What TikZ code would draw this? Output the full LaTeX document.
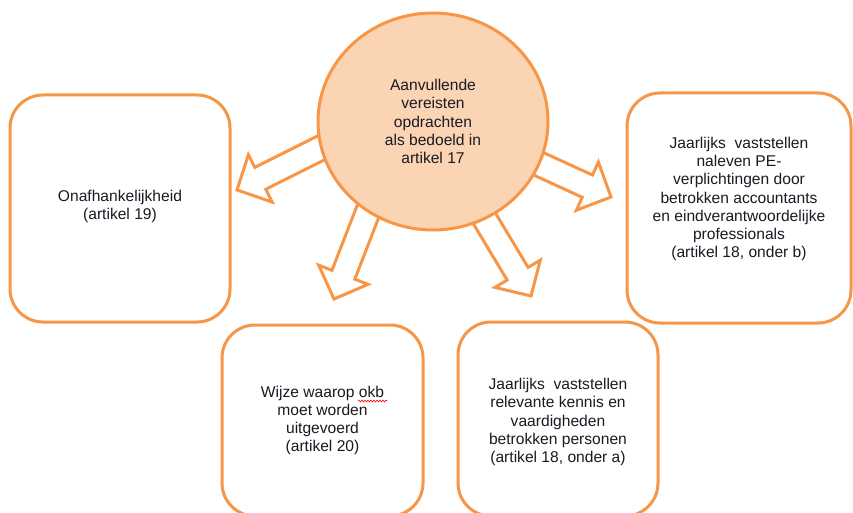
\documentclass[tikz,border=0pt]{standalone}
\usepackage{fontspec}
\setmainfont{Liberation Sans}
\usetikzlibrary{shapes.geometric,decorations.pathmorphing}
\definecolor{orng}{HTML}{F79646}
\definecolor{peach}{HTML}{FBD4B4}
\definecolor{txtc}{HTML}{1A1A24}
\begin{document}
\begin{tikzpicture}[x=1pt,y=-1pt,
  box/.style={draw=orng, line width=3pt, rounded corners=33pt, fill=white, inner sep=0pt},
  txt/.style={align=center, text=txtc, font=\fontsize{15.6}{18.3}\selectfont, inner sep=0pt},
  barrow/.pic={\draw[draw=orng, line width=3pt, fill=white, line join=miter]
     (0,0) -- (-26,26.5) -- (-26,12.25) -- (-130,12.25) -- (-130,-12.25)
     -- (-26,-12.25) -- (-26,-26.5) -- cycle;},
  spell/.style={draw=red, line width=0.6pt, decorate,
     decoration={snake, segment length=3pt, amplitude=0.9pt}}
]
\useasboundingbox (0,0) rectangle (853,513);
\clip (0,0) rectangle (853,513);

% boxes
\node[box, minimum width=220pt, minimum height=227pt] (lbox) at (120,208.5) {};
\node[box, minimum width=224pt, minimum height=230pt] (rbox) at (739,208) {};
\node[box, minimum width=201pt, minimum height=191pt] (mbox) at (322.5,420.5) {};
\node[box, minimum width=200pt, minimum height=194pt] (brbox) at (558,419) {};

% arrow tips
\coordinate (t1) at (237,190);
\coordinate (t2) at (334,299);
\coordinate (t3) at (531,296);
\coordinate (t4) at (611,197);
\pic[rotate=206.6] at (t1) {barrow};
\pic[rotate=248.8] at (t2) {barrow};
\pic[rotate=301.0] at (t3) {barrow};
\pic[rotate=335.4] at (t4) {barrow};

% central ellipse
\node[draw=orng, line width=3pt, fill=peach, ellipse, minimum width=230pt,
      minimum height=217pt, inner sep=0pt] (c) at (433,121.5) {};

% texts
\node[txt] (ct) at (c) {Aanvullende\\vereisten\\opdrachten\\als bedoeld in\\artikel 17};
\node[txt] (lt) at ([yshift=2pt]lbox.center) {Onafhankelijkheid\\(artikel 19)};
\node[txt] (rt) at ([yshift=9pt]rbox.center) {Jaarlijks\ \ vaststellen\\naleven PE-\\verplichtingen door\\betrokken accountants\\en eindverantwoordelijke\\professionals\\(artikel 18, onder b)};
\node[txt] (mt) at (mbox) {Wijze waarop okb\\moet worden\\uitgevoerd\\(artikel 20)};
\node[txt] (brt) at ([yshift=-3pt]brbox.center) {Jaarlijks\ \ vaststellen\\relevante kennis en\\vaardigheden\\betrokken personen\\(artikel 18, onder a)};

% spell-check underline
\coordinate (u1) at (358,401);
\coordinate (u2) at (387,401);
\draw[spell] (u1) -- (u2);
\end{tikzpicture}
\end{document}
